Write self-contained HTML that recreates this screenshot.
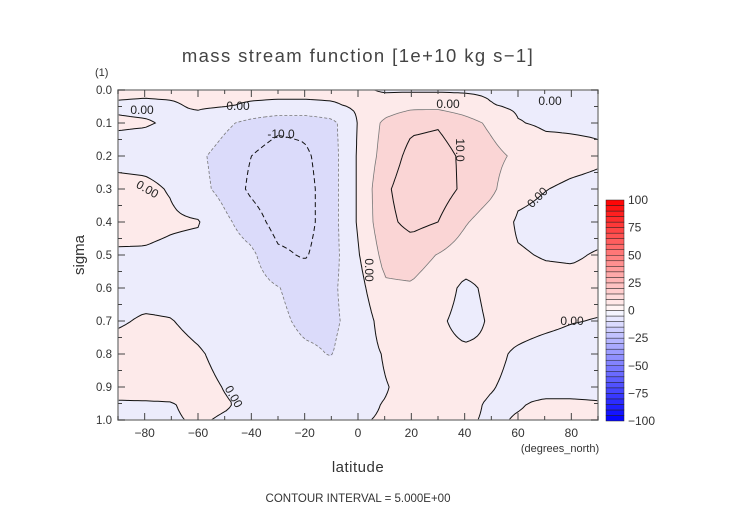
<!DOCTYPE html>
<html><head><meta charset="utf-8"><style>
body{margin:0;background:#fff;}
#wrap{position:relative;width:752px;height:532px;overflow:hidden;font-family:"Liberation Sans",sans-serif;color:#222;}
svg text{font-family:"Liberation Sans",sans-serif;}
</style></head><body>
<div id="wrap">
<canvas id="fill" width="480" height="330" style="position:absolute;left:118px;top:90px;"></canvas>
<svg id="svg" width="752" height="532" style="position:absolute;left:0;top:0">
<text x="358" y="62" text-anchor="middle" font-size="18.5" letter-spacing="1.4" fill="#444">mass stream function [1e+10 kg s−1]</text>
<text x="95" y="76" font-size="11" fill="#333">(1)</text>
<text x="0" y="0" transform="translate(84,255) rotate(-90)" text-anchor="middle" font-size="15" fill="#333">sigma</text>
<text x="358" y="472" text-anchor="middle" font-size="15" letter-spacing="0.5" fill="#333">latitude</text>
<text x="560" y="452" text-anchor="middle" font-size="11" fill="#333">(degrees_north)</text>
<text x="358" y="502" text-anchor="middle" font-size="11.5" fill="#333">CONTOUR INTERVAL = 5.000E+00</text>
<g id="contours"></g>
<g id="labels" font-size="12" fill="#222"></g>
<g id="axes"></g>
<g id="cbar"></g>
</svg>
</div>
<script>
// ---- data ----
const lats = [-90,-80,-70,-60,-50,-40,-30,-20,-10,0,10,20,30,40,50,60,70,80,90];
const sigmas = [0,0.05,0.1,0.2,0.3,0.4,0.5,0.6,0.7,0.8,0.9,0.95,1.0];
const row00 = [0.5,0.5,0.5,0.5,0.8,1,1,1,1,0.8,-0.5,-0.6,-0.6,-0.6,-0.6,-0.6,-0.6,-0.6,-0.6];
const row05 = [-0.3,-0.5,-0.3,0.3,0.2,-0.5,-0.8,-0.8,-0.5,0.5,2.5,4,4,2.5,0.2,-0.5,-0.5,-0.5,-0.5];
const row10 = [0.3,0.2,-0.3,-1,-4,-6.5,-8.5,-8.5,-6.5,0.2,6,9,9.5,7,4,0.2,-0.5,-0.5,-0.5];
const row20 = [-1,-1.2,-1.5,-4,-7,-10,-12.5,-11,-7,0.5,7,11.5,12,9,6.5,4,1.5,1,0.5];
const row30 = [1,0.8,-0.3,-3.5,-6.5,-11,-13.5,-12,-7,0.5,9,13,12.5,9,6,1,0.1,-0.5,-0.8];
const row40 = [1.5,1.3,0.6,0.3,-4,-7.5,-12,-12,-7,0.5,8.5,11.5,10,5.5,2.5,-0.5,-1,-1,-1];
const row50 = [-0.5,-0.5,-1,-1.5,-2.5,-4,-9,-10.5,-7,-0.4,6.5,7,4.8,2.5,1.5,0.3,-0.2,-0.3,0.2];
const row60 = [-1,-1,-1,-1.5,-2,-3,-4.8,-7,-6,-1.8,4.3,4.5,2.5,-1,1,1.5,1,0.8,0.8];
const row70 = [-0.3,0.3,0.1,-0.8,-1.5,-2.5,-4,-6,-6,-3,2,3,0.8,-1.5,0.5,0.8,0.5,0.1,-0.1];
const row80 = [1,1.2,1,0.3,-0.8,-2,-3,-4.2,-5.2,-2,0.3,2,1.2,0.8,0.5,-0.3,-0.8,-1,-1];
const row90 = [0.8,1,1,0.8,-0.1,-1,-1.5,-2,-2,-1.5,-0.2,1,1,0.8,0.1,-0.5,-0.5,-0.5,-0.5];
const row95 = [-0.2,-0.2,-0.1,0.5,0.2,-0.5,-0.8,-0.8,-0.8,-0.6,0.1,0.6,0.6,0.4,-0.2,-0.1,0.2,0.2,0.1];
const row100 = [-0.3,-0.3,-0.2,0.2,-0.2,-0.3,-0.3,-0.3,-0.3,-0.2,0.2,0.3,0.3,0.2,-0.2,0.1,0.2,0.2,0.2];
const levels = [-15,-10,-5,0,5,10,15];
const xTicks = [-80,-60,-40,-20,0,20,40,60,80];
const yTicks = [0,0.1,0.2,0.3,0.4,0.5,0.6,0.7,0.8,0.9,1.0];
const cbarTicks = [100,75,50,25,0,-25,-50,-75,-100];
const grid = [row00,row05,row10,row20,row30,row40,row50,row60,row70,row80,row90,row95,row100];

const PL=118, PT=90, PW=480, PH=330;
const xs = lat => PL + (lat+90)/180*PW;
const ys = s => PT + s*PH;
const NS = 'http://www.w3.org/2000/svg';
function mk(tag, attrs, parent){const e=document.createElementNS(NS,tag);for(const k in attrs)e.setAttribute(k,attrs[k]);parent.appendChild(e);return e;}

function val(lat, s){
  let i = Math.min(lats.length-2, Math.max(0, Math.floor((lat+90)/10)));
  let tx = (lat - lats[i])/(lats[i+1]-lats[i]);
  let j = 0; while(j < sigmas.length-2 && s > sigmas[j+1]) j++;
  let ty = (s - sigmas[j])/(sigmas[j+1]-sigmas[j]);
  tx=Math.max(0,Math.min(1,tx)); ty=Math.max(0,Math.min(1,ty));
  const a=grid[j][i], b=grid[j][i+1], c=grid[j+1][i], d=grid[j+1][i+1];
  return a*(1-tx)*(1-ty)+b*tx*(1-ty)+c*(1-tx)*ty+d*tx*ty;
}
function col(v){
  if(v>=0){ if(v<5) return [253,234,234]; if(v<15) return [250,213,213]; return [247,190,190]; }
  if(v>-5) return [236,236,252]; if(v>-15) return [219,219,250]; return [200,200,247];
}
// fill
(function(){
  const c=document.getElementById('fill').getContext('2d');
  const img=c.createImageData(PW,PH);
  for(let py=0;py<PH;py++){const s=(py+0.5)/PH;
    for(let px=0;px<PW;px++){const lat=-90+(px+0.5)/PW*180;
      const k=col(val(lat,s));const o=(py*PW+px)*4;
      img.data[o]=k[0];img.data[o+1]=k[1];img.data[o+2]=k[2];img.data[o+3]=255;}}
  c.putImageData(img,0,0);
})();
// contours (marching squares + chaining)
(function(){
  const g=document.getElementById('contours');
  const NX=121, NY=111;
  const V=[];
  for(let j=0;j<NY;j++){V[j]=[];for(let i=0;i<NX;i++){V[j][i]=val(-90+i*180/(NX-1), j/(NY-1));}}
  const px=i=>PL+i*PW/(NX-1), py=j=>PT+j*PH/(NY-1);
  levels.forEach(L=>{
    const pts={}, adj={};
    function ept(id){
      if(pts[id]) return id;
      const p=id.split(','); const t=p[0], i=+p[1], j=+p[2];
      let a,b,x,y;
      if(t==='h'){a=V[j][i];b=V[j][i+1];const f=(L-a)/(b-a);x=px(i)+f*(px(i+1)-px(i));y=py(j);}
      else {a=V[j][i];b=V[j+1][i];const f=(L-a)/(b-a);x=px(i);y=py(j)+f*(py(j+1)-py(j));}
      pts[id]=[x,y];return id;
    }
    function link(a,b){(adj[a]=adj[a]||[]).push(b);(adj[b]=adj[b]||[]).push(a);}
    for(let j=0;j<NY-1;j++)for(let i=0;i<NX-1;i++){
      const v=[V[j][i],V[j][i+1],V[j+1][i+1],V[j+1][i]];
      const e=[['h',i,j],['v',i+1,j],['h',i,j+1],['v',i,j]];
      const cr=[];
      for(let k=0;k<4;k++){const a=v[k],b=v[(k+1)%4];if((a>L)!==(b>L))cr.push(k);}
      if(cr.length===2) link(ept(e[cr[0]].join(',')),ept(e[cr[1]].join(',')));
      else if(cr.length===4){
        const ids=cr.map(k=>ept(e[k].join(',')));
        const cen=(v[0]+v[1]+v[2]+v[3])/4;
        if((cen>L)===(v[0]>L)){link(ids[0],ids[1]);link(ids[2],ids[3]);}
        else {link(ids[3],ids[0]);link(ids[1],ids[2]);}
      }
    }
    const used={};const paths=[];
    function walk(start){const line=[start];used[start]=1;let cur=start;
      while(true){const nx=(adj[cur]||[]).find(n=>!used[n]);if(!nx)break;used[nx]=1;line.push(nx);cur=nx;}
      if((adj[cur]||[]).includes(start)&&line.length>2)line.push(start);
      return line;}
    Object.keys(adj).forEach(k=>{if(!used[k]&&adj[k].length===1)paths.push(walk(k));});
    Object.keys(adj).forEach(k=>{if(!used[k])paths.push(walk(k));});
    const major=(L%10===0);
    paths.forEach(p=>{
      const d='M'+p.map(id=>pts[id][0].toFixed(1)+' '+pts[id][1].toFixed(1)).join('L');
      const el=mk('path',{d:d,fill:'none',stroke:major?'#111':'#777','stroke-width':major?1:0.8},g);
      if(L<0) el.setAttribute('stroke-dasharray',major?'5,3':'3,2');
      
      
    });
  });
})();
// contour labels
(function(){
  const g=document.getElementById('labels');
  const labs=[['0.00',142,111,0],['0.00',238,107,0],['0.00',448,105,0],['0.00',550,102,0],
    ['0.00',147,190,30],['0.00',368,270,90],['0.00',538,198,-45],['0.00',572,322,0],['0.00',233,397,60],
    ['-10.0',281,135,0],['10.0',459,150,90]];
  labs.forEach(l=>{
    const t=mk('text',{x:0,y:0,transform:'translate('+l[1]+','+l[2]+') rotate('+l[3]+')','text-anchor':'middle','dominant-baseline':'middle'},g);
    t.textContent=l[0];
    
    
  });
})();
// axes
(function(){
  const g=document.getElementById('axes');
  mk('rect',{x:PL,y:PT,width:PW,height:PH,fill:'none',stroke:'#888','stroke-width':1.5},g);
  for(let lat=-90;lat<=90;lat+=5){
    const x=xs(lat);const len=(lat%20===0)?7:((lat%10===0)?4:0);
    if(!len) continue;
    mk('line',{x1:x,y1:PT+PH,x2:x,y2:PT+PH-len,stroke:'#444','stroke-width':1},g);
    mk('line',{x1:x,y1:PT,x2:x,y2:PT+len,stroke:'#444','stroke-width':1},g);
  }
  xTicks.forEach(v=>{const t=mk('text',{x:xs(v),y:437,'text-anchor':'middle','font-size':12,fill:'#333'},g);
    t.textContent=(v<0?'−':'')+Math.abs(v);
    });
  for(let k=0;k<=20;k++){const s=k*0.05;const y=ys(s);const len=(k%2===0)?7:4;
    mk('line',{x1:PL,y1:y,x2:PL+len,y2:y,stroke:'#444','stroke-width':1},g);
    mk('line',{x1:PL+PW,y1:y,x2:PL+PW-len,y2:y,stroke:'#444','stroke-width':1},g);}
  yTicks.forEach(v=>{const t=mk('text',{x:112,y:ys(v)+4,'text-anchor':'end','font-size':11.5,fill:'#333'},g);
    t.textContent=v.toFixed(1);
    });
})();
// colorbar
(function(){
  const g=document.getElementById('cbar');
  const X=606,W=18,T=200,H=221;
  for(let k=0;k<40;k++){
    const lo=-100+k*5, mid=lo+2.5, t=Math.abs(mid)/100;
    const c=Math.round(250*(1-t));
    const fill=mid>0?'rgb(255,'+c+','+c+')':'rgb('+c+','+c+',255)';
    const y=T+H-(k+1)*H/40;
    const r=mk('rect',{x:X,y:y,width:W,height:H/40,fill:fill,stroke:'#222','stroke-width':0.5},g);
    
  }
  cbarTicks.forEach(v=>{const y=T+(100-v)/200*H;
    const t=mk('text',{x:628,y:y+4,'font-size':12,fill:'#333'},g);
    t.textContent=(v<0?'−':'')+Math.abs(v);
    });
})();
</script>
</body></html>
